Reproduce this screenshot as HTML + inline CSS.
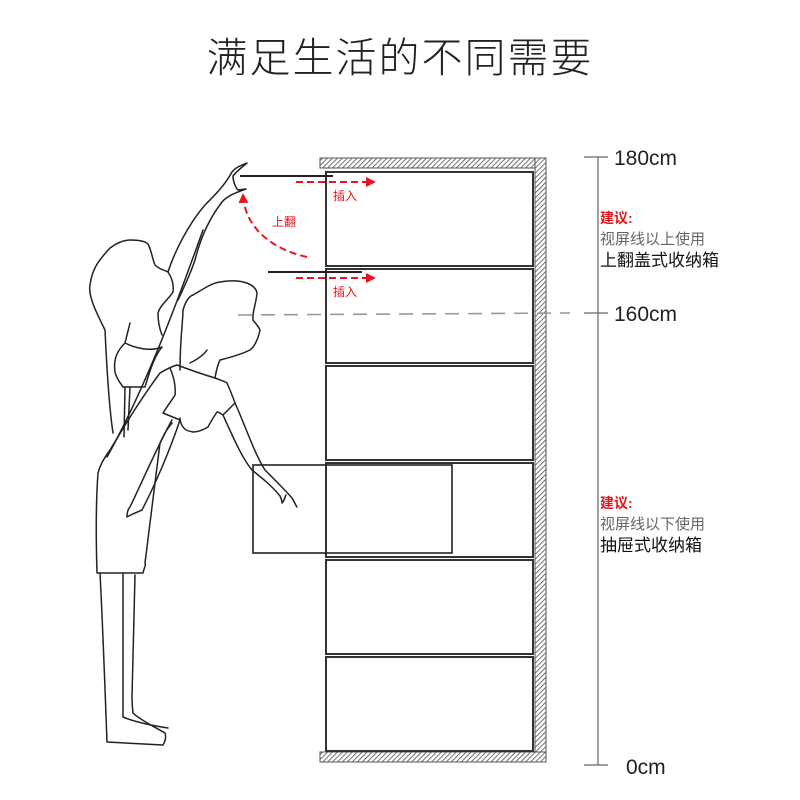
<!DOCTYPE html>
<html><head><meta charset="utf-8"><style>
html,body{margin:0;padding:0;background:#fff}
svg{display:block}
text{font-family:"Liberation Sans","Noto Sans CJK SC",sans-serif}
</style></head><body>
<svg width="800" height="800" viewBox="0 0 800 800" xmlns="http://www.w3.org/2000/svg">
<defs>
<pattern id="h" width="3.5" height="3.5" patternUnits="userSpaceOnUse" patternTransform="rotate(45)">
<rect width="3.5" height="3.5" fill="#fff"/><line x1="0" y1="0" x2="0" y2="3.5" stroke="#444" stroke-width="1.5"/>
</pattern>
<marker id="ar" markerWidth="10" markerHeight="10" refX="8" refY="5" orient="auto" markerUnits="userSpaceOnUse"><path d="M0,0 L10,5 L0,10 Z" fill="#e8141c"/></marker>
</defs>
<text x="400" y="72" text-anchor="middle" font-size="41" fill="#222" font-weight="300" letter-spacing="2">满足生活的不同需要</text>

<rect x="320" y="158" width="226" height="10" fill="url(#h)" stroke="#555" stroke-width="1"/>
<rect x="535" y="158" width="11" height="604" fill="url(#h)" stroke="#555" stroke-width="1"/>
<rect x="320" y="752" width="226" height="10" fill="url(#h)" stroke="#555" stroke-width="1"/>

<g fill="#fff" stroke="#333" stroke-width="2">
<rect x="326" y="172" width="207" height="94"/>
<rect x="326" y="269" width="207" height="94"/>
<rect x="326" y="366" width="207" height="94"/>
<rect x="326" y="463" width="207" height="94"/>
<rect x="326" y="560" width="207" height="94"/>
<rect x="326" y="657" width="207" height="94"/>
</g>
<rect x="253" y="465" width="199" height="88" fill="none" stroke="#222" stroke-width="1.6"/>

<line x1="240" y1="176" x2="333" y2="176" stroke="#222" stroke-width="2"/>
<line x1="268" y1="272" x2="362" y2="272" stroke="#222" stroke-width="2"/>
<g stroke="#e8141c" stroke-width="2" stroke-dasharray="7,4" fill="none">
<line x1="296" y1="182" x2="374" y2="182" marker-end="url(#ar)"/>
<line x1="296" y1="278" x2="374" y2="278" marker-end="url(#ar)"/>
<path d="M307,257 C275,250 245,230 243,195" marker-end="url(#ar)"/>
</g>
<text x="333" y="200" font-size="12" fill="#e8141c">插入</text>
<text x="333" y="296" font-size="12" fill="#e8141c">插入</text>
<text x="272" y="226" font-size="12" fill="#e8141c">上翻</text>

<line x1="238" y1="315" x2="570" y2="313" stroke="#999" stroke-width="1.6" stroke-dasharray="14,9"/>

<line x1="598" y1="157" x2="598" y2="765" stroke="#666" stroke-width="1.2"/>
<line x1="584" y1="157" x2="608" y2="157" stroke="#666" stroke-width="1.2"/>
<line x1="584" y1="313" x2="608" y2="313" stroke="#666" stroke-width="1.2"/>
<line x1="584" y1="765" x2="608" y2="765" stroke="#666" stroke-width="1.2"/>
<text x="614" y="165" font-size="21" fill="#222">180cm</text>
<text x="614" y="321" font-size="21" fill="#222">160cm</text>
<text x="626" y="774" font-size="21" fill="#222">0cm</text>
<text x="600" y="223" font-size="14" fill="#e8141c" font-weight="bold">建议:</text>
<text x="600" y="244" font-size="15" fill="#666">视屏线以上使用</text>
<text x="600" y="266" font-size="17" fill="#111">上翻盖式收纳箱</text>
<text x="600" y="508" font-size="14" fill="#e8141c" font-weight="bold">建议:</text>
<text x="600" y="529" font-size="15" fill="#666">视屏线以下使用</text>
<text x="600" y="551" font-size="17" fill="#111">抽屉式收纳箱</text>

<g fill="none" stroke="#222" stroke-width="1.5" stroke-linejoin="round" stroke-linecap="round">
<path d="M113,433 C108,400 106,350 105,330 C95,310 88,295 90,285 C92,270 97,262 110,248 C118,242 125,240 130,240 C138,240 145,241 148,244 C152,252 152,258 155,265 C160,270 165,270 168,272 C172,278 174,285 173,292 C168,300 160,305 158,313 C158,322 160,330 162,335"/>
<path d="M168,272 C175,250 190,222 205,205 C215,195 225,185 232,172 C236,167 242,165 247,163 C242,167 236,172 233,176 C233,182 236,188 238,190 C241,190 244,189 246,189 C238,192 228,195 222,202 C208,220 200,240 195,260 C190,275 185,285 178,300"/>
<path d="M203,230 C185,280 150,380 107,457"/>
<path d="M130,323 L125,343 C118,350 113,358 115,372 C117,380 122,385 123,387 L145,387 C150,370 155,355 162,347 C150,352 135,348 125,343"/>
<path d="M125,387 L124,437 M130,387 L128,430"/>
<path d="M180,370 C180,340 183,320 183,310 C186,300 190,296 193,295 C205,288 212,283 220,282 C230,280 240,281 243,282 C252,284 256,288 257,293 C256,305 252,312 253,320 C256,324 259,327 260,330 C258,340 254,347 250,350 C240,355 228,358 220,360 C217,366 216,372 215,378"/>
<path d="M207,350 C203,356 196,360 190,363"/>
<path d="M177,365 C185,368 205,375 215,378 C220,380 224,381 227,383 C230,390 233,397 235,403 C230,408 226,412 223,415 C220,413 219,412 217,412 C213,418 210,423 208,427 C203,430 198,432 193,432 C188,431 185,430 183,427 C181,424 180,421 180,418"/>
<path d="M235,403 C245,425 255,455 265,470 C275,480 285,490 292,498 C295,503 296,506 297,507"/>
<path d="M223,415 C232,435 242,458 252,470 C262,478 272,486 280,496 C282,500 282,503 282,503 C285,500 285,496 286,495"/>
<path d="M170,368 C173,375 176,385 175,395 C172,400 168,405 163,413 L180,420 C170,450 155,485 142,510 C135,513 130,515 127,517 C127,512 128,509 130,507 C143,480 158,445 172,420"/>
<path d="M177,365 C170,367 165,370 160,373 C140,400 125,425 110,450 C104,458 100,465 98,473 C96,500 96,540 97,573 L143,573 C145,565 146,565 145,563 C150,520 155,480 160,443 C165,432 168,428 172,423"/>
<path d="M100,573 C103,630 105,690 107,742 L163,745 C166,740 166,736 165,733 C155,727 140,720 133,713 C132,705 132,700 132,697 C133,650 134,610 135,575"/>
<path d="M123,573 C123,630 123,680 123,717 C135,722 155,726 168,728"/>
</g>
</svg>
</body></html>
